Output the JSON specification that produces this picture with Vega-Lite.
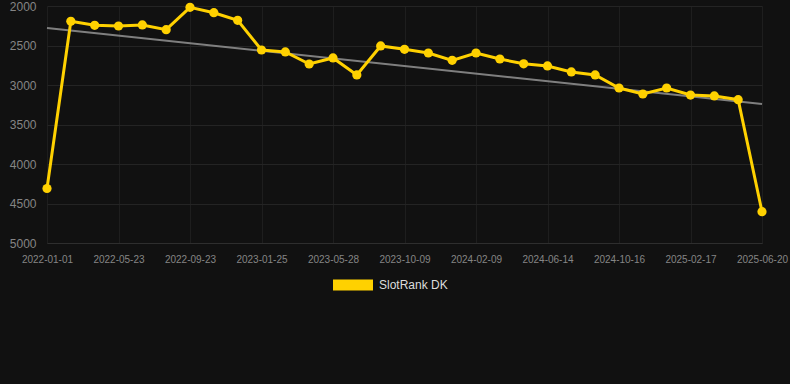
{
  "$schema": "https://vega.github.io/schema/vega-lite/v6.json",
  "autosize": {"type": "none"},
  "padding": {"left": 40, "top": 6, "right": 0, "bottom": 141},
  "width": 750,
  "height": 237,
  "background": "#111111",
  "config": {
    "view": {"stroke": null},
    "font": "Liberation Sans",
    "axis": {"labelFont": "Liberation Sans", "gridColor": "#242424", "gridWidth": 1, "domain": false, "ticks": false}
  },
  "datasets": {
    "ranks": [
      {"date": "2022-01-01", "rank": 4310, "series": "SlotRank DK"},
      {"date": "2022-02-17", "rank": 2194, "series": "SlotRank DK"},
      {"date": "2022-04-05", "rank": 2244, "series": "SlotRank DK"},
      {"date": "2022-05-23", "rank": 2253, "series": "SlotRank DK"},
      {"date": "2022-07-03", "rank": 2240, "series": "SlotRank DK"},
      {"date": "2022-08-13", "rank": 2300, "series": "SlotRank DK"},
      {"date": "2022-09-23", "rank": 2017, "series": "SlotRank DK"},
      {"date": "2022-11-03", "rank": 2085, "series": "SlotRank DK"},
      {"date": "2022-12-14", "rank": 2181, "series": "SlotRank DK"},
      {"date": "2023-01-25", "rank": 2557, "series": "SlotRank DK"},
      {"date": "2023-03-07", "rank": 2582, "series": "SlotRank DK"},
      {"date": "2023-04-17", "rank": 2734, "series": "SlotRank DK"},
      {"date": "2023-05-28", "rank": 2658, "series": "SlotRank DK"},
      {"date": "2023-07-11", "rank": 2873, "series": "SlotRank DK"},
      {"date": "2023-08-25", "rank": 2506, "series": "SlotRank DK"},
      {"date": "2023-10-09", "rank": 2548, "series": "SlotRank DK"},
      {"date": "2023-11-19", "rank": 2595, "series": "SlotRank DK"},
      {"date": "2023-12-30", "rank": 2688, "series": "SlotRank DK"},
      {"date": "2024-02-09", "rank": 2595, "series": "SlotRank DK"},
      {"date": "2024-03-21", "rank": 2671, "series": "SlotRank DK"},
      {"date": "2024-05-02", "rank": 2732, "series": "SlotRank DK"},
      {"date": "2024-06-14", "rank": 2759, "series": "SlotRank DK"},
      {"date": "2024-07-25", "rank": 2835, "series": "SlotRank DK"},
      {"date": "2024-09-04", "rank": 2873, "series": "SlotRank DK"},
      {"date": "2024-10-16", "rank": 3038, "series": "SlotRank DK"},
      {"date": "2024-11-26", "rank": 3114, "series": "SlotRank DK"},
      {"date": "2025-01-06", "rank": 3038, "series": "SlotRank DK"},
      {"date": "2025-02-17", "rank": 3127, "series": "SlotRank DK"},
      {"date": "2025-03-30", "rank": 3139, "series": "SlotRank DK"},
      {"date": "2025-05-10", "rank": 3186, "series": "SlotRank DK"},
      {"date": "2025-06-20", "rank": 4604, "series": "SlotRank DK"}
    ],
    "trend": [
      {"date": "2022-01-01", "rank": 2278},
      {"date": "2025-06-20", "rank": 3240}
    ]
  },
  "encoding": {
    "x": {
      "field": "date", "type": "ordinal",
      "scale": {"type": "point", "range": [7, 722], "padding": 0},
      "axis": {
        "title": null, "labelAngle": 0, "labelColor": "#858585", "labelFontSize": 10, "labelPadding": 11,
        "values": ["2022-01-01", "2022-05-23", "2022-09-23", "2023-01-25", "2023-05-28", "2023-10-09", "2024-02-09", "2024-06-14", "2024-10-16", "2025-02-17", "2025-06-20"],
        "grid": true, "gridColor": "#1e1e1e",
        "domain": true, "domainColor": "#2e2e2e", "domainWidth": 1
      }
    },
    "y": {
      "field": "rank", "type": "quantitative",
      "scale": {"domain": [2000, 5000], "reverse": true, "nice": false, "zero": false},
      "axis": {
        "title": null, "values": [2000, 2500, 3000, 3500, 4000, 4500, 5000], "format": "d",
        "labelColor": "#858585", "labelFontSize": 12, "labelPadding": 4, "grid": true
      }
    }
  },
  "layer": [
    {
      "data": {"name": "trend"},
      "mark": {"type": "line", "color": "#8c8c8c", "strokeWidth": 2, "opacity": 0.9}
    },
    {
      "data": {"name": "ranks"},
      "mark": {"type": "line", "strokeWidth": 3},
      "encoding": {
        "color": {
          "field": "series", "type": "nominal",
          "scale": {"domain": ["SlotRank DK"], "range": ["#FFD100"]},
          "legend": {
            "title": null, "orient": "none", "legendX": 293, "legendY": 259,
            "symbolType": "M-1,-0.275H1V0.275H-1Z", "symbolSize": 1600,
            "symbolStrokeWidth": 0, "symbolFillColor": "#FFD100", "symbolOpacity": 1,
            "labelColor": "#dddddd", "labelFontSize": 12, "labelOffset": 6, "padding": 0,
            "labelFont": "Liberation Sans"
          }
        }
      }
    },
    {
      "data": {"name": "ranks"},
      "mark": {"type": "point", "filled": true, "size": 85, "opacity": 1},
      "encoding": {
        "color": {"field": "series", "type": "nominal"}
      }
    }
  ]
}
